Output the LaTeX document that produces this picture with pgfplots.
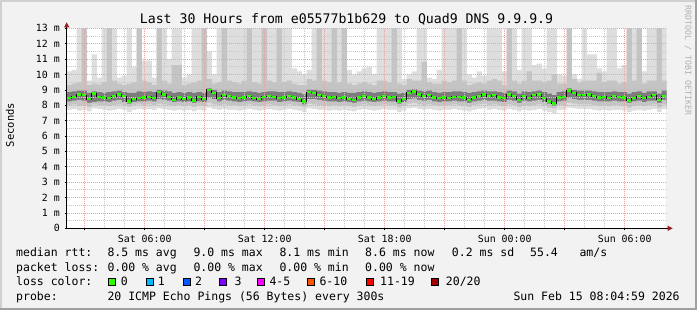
\documentclass[border=0pt]{standalone}
\usepackage{fontspec}
\setmainfont{DejaVu Sans Mono}
\usepackage{pgfplots}
\pgfplotsset{compat=1.18}
\usepackage{pgfplotstable}
\usetikzlibrary{arrows.meta}
\definecolor{bgframe}{HTML}{F2F2F2}
\definecolor{framelight}{HTML}{D0D0D0}
\definecolor{framedark}{HTML}{A0A0A0}
\definecolor{smlight}{HTML}{DEDEDE}
\definecolor{smmid}{HTML}{C4C4C4}
\definecolor{smdark}{HTML}{7C7C7C}
\definecolor{gridred}{HTML}{F2A0A0}
\definecolor{gridgray}{HTML}{C8C8C8}
\definecolor{arrowred}{HTML}{9E1E1E}
\definecolor{lossgreen}{HTML}{2BFF00}
\definecolor{loss1}{HTML}{00B8FF}
\definecolor{loss2}{HTML}{0059FF}
\definecolor{loss3}{HTML}{7E00FF}
\definecolor{loss4}{HTML}{FF00FF}
\definecolor{loss6}{HTML}{FF5500}
\definecolor{loss11}{HTML}{FF0000}
\definecolor{loss20}{HTML}{A10000}
\definecolor{rrdgray}{HTML}{B0B0B0}

\pgfplotstableread{
t ll lo d1 d2 m top med
2.225 7.70 8.00 8.25 8.85 9.30 10.2 8.45
2.475 7.75 8.05 8.30 8.90 9.40 10.3 8.55
2.725 7.65 7.95 8.35 8.95 9.50 13 8.70
2.975 7.70 8.00 8.30 8.95 13 13 8.65
3.225 7.60 7.90 8.15 8.80 9.30 9.6 8.40
3.475 7.80 8.05 8.20 8.90 9.40 11.3 8.75
3.725 7.75 8.00 8.25 8.85 9.35 9.8 8.55
3.975 7.70 8.00 8.25 8.80 9.50 13 8.50
4.225 7.65 7.95 8.20 8.85 13 13 8.45
4.475 7.70 8.00 8.30 8.90 9.60 13 8.60
4.725 7.75 8.05 8.35 8.95 9.40 9.8 8.70
4.975 7.70 8.00 8.20 8.85 9.30 9.9 8.60
5.225 7.55 7.90 8.10 8.80 9.40 13 8.25
5.475 7.70 8.00 8.20 8.80 9.50 10.5 8.40
5.725 7.75 8.05 8.25 8.90 13 13 8.45
5.975 7.70 8.00 8.25 8.85 9.60 10.9 8.50
6.225 7.75 8.05 8.30 8.90 9.50 10.9 8.55
6.475 7.70 8.00 8.25 8.85 9.30 9.8 8.45
6.725 7.80 8.10 8.40 9.00 13 13 8.85
6.975 7.75 8.05 8.35 8.95 9.60 13 8.70
7.225 7.70 8.00 8.30 8.90 9.40 11.0 8.55
7.475 7.65 7.95 8.20 8.80 10.6 13 8.35
7.725 7.70 8.00 8.25 8.85 10.6 13 8.50
7.975 7.65 7.95 8.20 8.80 9.30 9.8 8.40
8.225 7.70 8.00 8.25 8.85 9.40 10.0 8.50
8.475 7.60 7.90 8.15 8.80 9.50 13 8.30
8.725 7.70 8.00 8.25 8.85 9.60 13 8.55
8.975 7.65 7.95 8.20 8.80 13 13 8.40
9.225 7.85 8.15 8.50 9.10 9.70 11.5 9.00
9.475 7.75 8.05 8.40 9.00 9.40 10.0 8.80
9.725 7.70 8.00 8.25 8.85 9.50 13 8.45
9.975 7.75 8.05 8.35 8.95 13 13 8.65
10.225 7.70 8.00 8.30 8.90 9.60 13 8.60
10.475 7.70 8.00 8.25 8.85 9.50 13 8.50
10.725 7.65 7.95 8.20 8.85 9.40 13 8.45
10.975 7.70 8.00 8.25 8.85 9.60 13 8.50
11.225 7.75 8.05 8.30 8.90 13 13 8.60
11.475 7.70 8.00 8.25 8.85 9.50 13 8.45
11.725 7.65 7.95 8.20 8.80 9.40 13 8.40
11.975 7.70 8.00 8.25 8.85 13 13 8.55
12.225 7.75 8.05 8.30 8.90 9.60 13 8.60
12.475 7.70 8.00 8.30 8.90 9.50 13 8.55
12.725 7.65 7.95 8.20 8.85 13 13 8.45
12.975 7.70 8.00 8.25 8.85 9.50 13 8.50
13.225 7.75 8.05 8.30 8.90 9.60 13 8.60
13.475 7.70 8.00 8.25 8.85 9.40 10.4 8.50
13.725 7.65 7.95 8.20 8.80 9.30 10.2 8.40
13.975 7.55 7.90 8.05 8.70 9.30 10.0 8.25
14.225 7.80 8.10 8.40 9.00 9.70 10.3 8.85
14.475 7.75 8.05 8.40 9.00 9.60 13 8.80
14.725 7.70 8.00 8.35 8.95 13 13 8.65
14.975 7.70 8.00 8.30 8.90 9.60 13 8.60
15.225 7.65 7.95 8.25 8.85 9.50 13 8.50
15.475 7.70 8.00 8.25 8.85 13 13 8.55
15.725 7.65 7.95 8.20 8.80 9.50 13 8.45
15.975 7.70 8.00 8.25 8.85 13 13 8.50
16.225 7.65 7.95 8.20 8.80 9.40 10.3 8.40
16.475 7.60 7.90 8.15 8.80 9.30 10.0 8.35
16.725 7.70 8.00 8.25 8.85 9.40 10.2 8.50
16.975 7.75 8.05 8.30 8.90 9.50 10.4 8.60
17.225 7.70 8.00 8.25 8.85 9.40 10.5 8.50
17.475 7.65 7.95 8.20 8.80 9.30 10.0 8.40
17.725 7.70 8.00 8.25 8.85 9.60 13 8.50
17.975 7.75 8.05 8.30 8.90 9.60 13 8.60
18.225 7.70 8.00 8.25 8.85 9.50 13 8.50
18.475 7.70 8.00 8.25 8.85 13 13 8.55
18.725 7.55 7.85 8.10 8.75 9.40 13 8.25
18.975 7.65 7.95 8.20 8.80 9.30 9.7 8.40
19.225 7.80 8.10 8.40 9.00 9.70 10.0 8.80
19.475 7.85 8.15 8.45 9.05 9.60 10.2 8.90
19.725 7.75 8.05 8.35 8.95 9.60 13 8.70
19.975 7.70 8.00 8.30 8.90 10.8 13 8.60
20.225 7.75 8.05 8.35 8.95 9.50 9.8 8.65
20.475 7.70 8.00 8.25 8.85 9.40 9.7 8.50
20.725 7.65 7.95 8.20 8.80 9.40 10.3 8.45
20.975 7.70 8.00 8.25 8.85 9.60 13 8.50
21.225 7.70 8.00 8.25 8.85 9.50 13 8.45
21.475 7.75 8.05 8.30 8.90 9.60 13 8.55
21.725 7.70 8.00 8.25 8.90 13 13 8.55
21.975 7.65 7.95 8.25 8.85 9.60 13 8.50
22.225 7.60 7.90 8.15 8.80 9.30 10.0 8.35
22.475 7.70 8.00 8.25 8.85 9.40 9.8 8.50
22.725 7.75 8.05 8.30 8.90 9.50 10.2 8.60
22.975 7.80 8.10 8.35 8.95 9.40 9.9 8.70
23.225 7.70 8.00 8.30 8.90 9.60 13 8.60
23.475 7.75 8.05 8.30 8.90 9.70 13 8.65
23.725 7.70 8.00 8.25 8.85 9.60 13 8.50
23.975 7.65 7.95 8.20 8.80 9.30 10.2 8.45
24.225 7.75 8.05 8.35 8.95 13 13 8.70
24.475 7.70 8.00 8.30 8.90 9.60 13 8.60
24.725 7.60 7.90 8.15 8.75 9.40 10.3 8.35
24.975 7.70 8.00 8.30 8.90 9.60 13 8.60
25.225 7.65 7.95 8.25 8.85 10.2 13 8.45
25.475 7.70 8.00 8.30 8.90 9.60 10.6 8.65
25.725 7.75 8.05 8.35 8.95 9.60 10.7 8.70
25.975 7.65 7.95 8.20 8.85 9.50 10.4 8.45
26.225 7.55 7.85 8.10 8.75 9.60 13 8.25
26.475 7.45 7.80 7.95 8.65 10.0 13 8.10
26.725 7.70 8.00 8.25 8.85 9.40 10.0 8.50
26.975 7.70 8.00 8.30 8.90 9.40 9.9 8.55
27.225 7.85 8.15 8.50 9.10 13 13 8.95
27.475 7.80 8.10 8.40 9.00 9.70 10.0 8.80
27.725 7.75 8.05 8.35 8.95 9.50 9.7 8.65
27.975 7.75 8.05 8.35 8.95 9.60 13 8.65
28.225 7.75 8.05 8.35 8.95 9.60 11.3 8.70
28.475 7.70 8.00 8.30 8.90 9.60 11.3 8.60
28.725 7.65 7.95 8.25 8.85 10.1 10.4 8.50
28.975 7.70 8.00 8.25 8.85 9.50 10.2 8.55
29.225 7.65 7.95 8.25 8.85 9.60 13 8.45
29.475 7.70 8.00 8.30 8.90 9.60 13 8.60
29.725 7.70 8.00 8.25 8.85 9.40 10.4 8.55
29.975 7.65 7.95 8.25 8.85 9.50 10.6 8.50
30.225 7.55 7.85 8.15 8.75 13 13 8.30
30.475 7.65 7.95 8.25 8.85 9.60 13 8.45
30.725 7.70 8.00 8.30 8.90 13 13 8.60
30.975 7.65 7.95 8.20 8.80 9.40 10.2 8.45
31.225 7.70 8.00 8.30 8.90 9.60 13 8.55
31.475 7.75 8.05 8.30 8.90 9.60 13 8.65
31.725 7.55 7.85 8.15 8.75 13 13 8.35
31.975 7.75 8.05 8.35 8.95 9.60 13 8.60
}\smoke

\newcommand{\legfont}{\fontsize{11.5bp}{13bp}\selectfont}

\begin{document}
\begin{tikzpicture}
\fill[bgframe] (0bp,0bp) rectangle (697bp,310bp);
\fill[framelight] (0bp,0bp) rectangle (2bp,310bp);
\fill[framelight] (0bp,308bp) rectangle (697bp,310bp);
\fill[framedark] (695bp,0bp) rectangle (697bp,310bp);
\fill[framedark] (0bp,0bp) rectangle (697bp,2bp);
\useasboundingbox (0bp,0bp) rectangle (697bp,310bp);

\begin{axis}[
  at={(66.7bp,81.7bp)}, anchor=south west,
  scale only axis, width=600bp, height=200bp,
  xmin=2.1, xmax=32.1, ymin=0, ymax=13,
  axis background/.style={fill=white},
  axis on top,
  axis lines=left,
  x axis line style={black, line width=0.8bp, -{Triangle[length=5bp,width=5bp,color=arrowred]}, shorten >=-6bp},
  y axis line style={black, line width=0.8bp, -{Triangle[length=5bp,width=5bp,color=arrowred]}, shorten >=-6bp},
  xtick={3,6,9,12,15,18,21,24,27,30},
  xticklabels={{},{Sat 06:00},{},{Sat 12:00},{},{Sat 18:00},{},{Sun 00:00},{},{Sun 06:00}},
  ytick={0,1,2,3,4,5,6,7,8,9,10,11,12,13},
  yticklabels={0,1 m,2 m,3 m,4 m,5 m,6 m,7 m,8 m,9 m,10 m,11 m,12 m,13 m},
  minor x tick num=2, minor y tick num=1,
  grid=both,
  major grid style={draw=gridred, dash pattern=on 1bp off 1bp, line width=0.7bp},
  minor grid style={draw=gridgray, dash pattern=on 1bp off 1bp, line width=0.7bp},
  tick align=outside, major tick length=2bp, minor tick length=0pt,
  tick style={black, line width=0.6bp},
  tick label style={font=\fontsize{9.9bp}{11bp}\selectfont},
  xticklabel style={anchor=base, inner sep=0pt, yshift=-12.4bp},
  yticklabel style={anchor=east, inner sep=0pt, xshift=-4.7bp},
]
\addplot[ybar, bar width=0.27, bar shift=0pt, fill=smlight, draw=none] table[x=t, y=top] {\smoke};
\addplot[ybar, bar width=0.27, bar shift=0pt, fill=smmid, draw=none] table[x=t, y=m] {\smoke};
\addplot[ybar, bar width=0.27, bar shift=0pt, fill=smdark, draw=none] table[x=t, y=d2] {\smoke};
\addplot[ybar, bar width=0.27, bar shift=0pt, fill=smmid, draw=none] table[x=t, y=d1] {\smoke};
\addplot[ybar, bar width=0.27, bar shift=0pt, fill=smlight, draw=none] table[x=t, y=lo] {\smoke};
\addplot[ybar, bar width=0.27, bar shift=0pt, fill=white, draw=none] table[x=t, y=ll] {\smoke};
\addplot[const plot mark mid, black, line width=0.9bp, mark=none] table[x=t, y=med] {\smoke};
\addplot[only marks, mark=-, mark size=2bp, mark options={draw=lossgreen, line width=2.4bp}] table[x=t, y=med] {\smoke};
\end{axis}

% title
\node[anchor=base, inner sep=0pt, font=\fontsize{13.2bp}{15bp}\selectfont] at (346.5bp,286bp) {Last 30 Hours from e05577b1b629 to Quad9 DNS 9.9.9.9};
% y label
\node[rotate=90, inner sep=0pt, font=\fontsize{10.5bp}{12bp}\selectfont] at (10bp,185bp) {Seconds};
% watermark
\node[rotate=-90, anchor=west, inner sep=0pt, text=rrdgray, font=\fontsize{8.3bp}{9bp}\selectfont] at (688bp,305bp) {RRDTOOL / TOBI OETIKER};

% legend
\begin{scope}[every node/.style={anchor=base west, inner sep=0pt, font=\legfont}]
\node at (16bp,53bp) {median rtt:};
\node at (107.3bp,53bp) {8.5 ms avg};
\node at (193.3bp,53bp) {9.0 ms max};
\node at (279.3bp,53bp) {8.1 ms min};
\node at (365bp,53bp) {8.6 ms now};
\node at (451.7bp,53bp) {0.2 ms sd};
\node at (530bp,53bp) {55.4};
\node at (579.3bp,53bp) {am/s};

\node at (16bp,38.7bp) {packet loss:};
\node at (107.3bp,38.7bp) {0.00 \% avg};
\node at (193.3bp,38.7bp) {0.00 \% max};
\node at (279.3bp,38.7bp) {0.00 \% min};
\node at (365bp,38.7bp) {0.00 \% now};

\node at (16bp,24.4bp) {loss color:};
\node at (120.7bp,24.4bp) {0};
\node at (157.7bp,24.4bp) {1};
\node at (195bp,24.4bp) {2};
\node at (234.3bp,24.4bp) {3};
\node at (269.3bp,24.4bp) {4-5};
\node at (319.3bp,24.4bp) {6-10};
\node at (380bp,24.4bp) {11-19};
\node at (445.7bp,24.4bp) {20/20};

\node at (16bp,10bp) {probe:};
\node at (107.3bp,10bp) {20 ICMP Echo Pings (56 Bytes) every 300s};
\node at (513.3bp,10bp) {Sun Feb 15 08:04:59 2026};
\end{scope}
\begin{scope}[line width=0.6bp]
\filldraw[fill=lossgreen, draw=black] (108.6bp,25bp) rectangle ++(7bp,7bp);
\filldraw[fill=loss1, draw=black] (146bp,25bp) rectangle ++(7bp,7bp);
\filldraw[fill=loss2, draw=black] (183bp,25bp) rectangle ++(7bp,7bp);
\filldraw[fill=loss3, draw=black] (219.6bp,25bp) rectangle ++(7bp,7bp);
\filldraw[fill=loss4, draw=black] (257bp,25bp) rectangle ++(7bp,7bp);
\filldraw[fill=loss6, draw=black] (307bp,25bp) rectangle ++(7bp,7bp);
\filldraw[fill=loss11, draw=black] (366bp,25bp) rectangle ++(7bp,7bp);
\filldraw[fill=loss20, draw=black] (431bp,25bp) rectangle ++(7bp,7bp);
\end{scope}
\end{tikzpicture}
\end{document}
